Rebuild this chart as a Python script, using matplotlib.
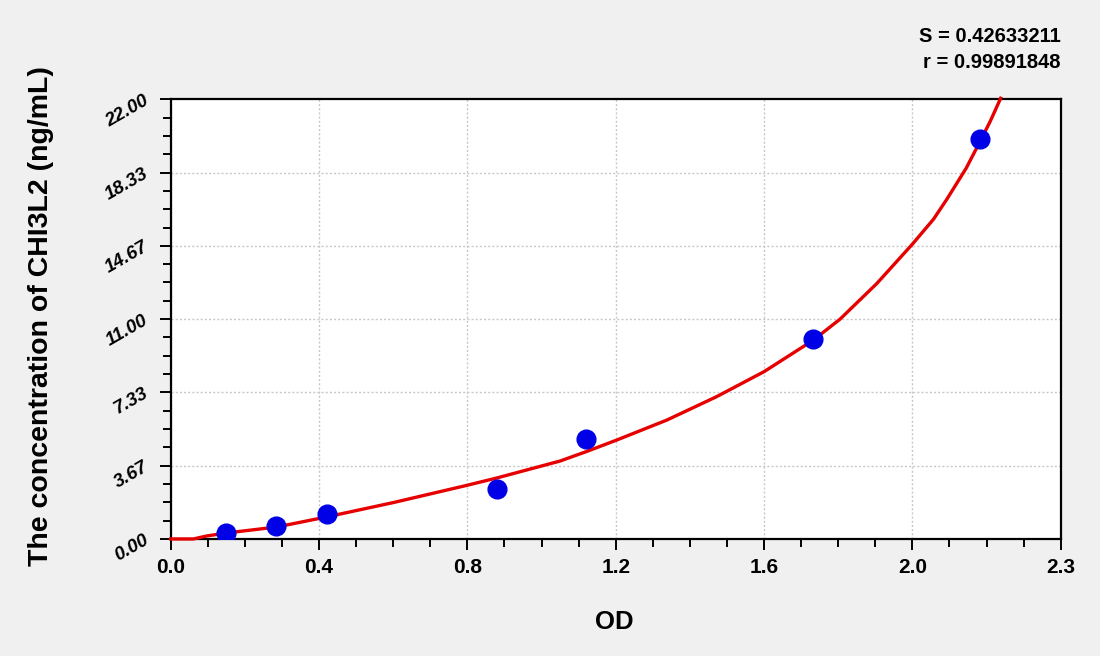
import numpy as np
import matplotlib
matplotlib.use("Agg")
import matplotlib.pyplot as plt
from matplotlib.ticker import MultipleLocator

plt.rcParams['font.family'] = ['Liberation Sans', 'DejaVu Sans']

# standard points
od = [0.149, 0.284, 0.421, 0.879, 1.119, 1.733, 2.181]
conc = [0.312, 0.625, 1.25, 2.5, 5.0, 10.0, 20.0]

# fitted curve
curve_od = [0.0, 0.061, 0.097, 0.151, 0.286, 0.42, 0.6, 0.798, 0.879, 1.05, 1.122,
            1.2, 1.338, 1.472, 1.6, 1.733, 1.805, 1.904, 2.0, 2.057, 2.093, 2.145,
            2.18, 2.21, 2.238]
curve_conc = [0.0, 0.0, 0.15, 0.3, 0.6, 1.1, 1.82, 2.68, 3.05, 3.9, 4.38,
              4.93, 5.95, 7.12, 8.37, 9.95, 11.0, 12.78, 14.75, 16.0, 17.0, 18.55,
              19.8, 20.9, 22.05]

x_ticks = [0.0, 0.4, 0.8, 1.2, 1.6, 2.0, 2.4]
x_labels = ["0.0", "0.4", "0.8", "1.2", "1.6", "2.0", "2.3"]
y_ticks = [0.0, 22 / 6, 44 / 6, 11.0, 88 / 6, 110 / 6, 22.0]
y_labels = ["0.00", "3.67", "7.33", "11.00", "14.67", "18.33", "22.00"]

fig = plt.figure(figsize=(11, 6.56), dpi=100, facecolor='#f0f0f0')
ax = fig.add_axes([0.1552, 0.1784, 0.8091, 0.6703])
ax.set_facecolor('white')

ax.plot(curve_od, curve_conc, color='#e60000', lw=2.4, zorder=3, clip_on=False,
        solid_joinstyle='round')
ax.plot(od, conc, 'o', color='#0000e6', ms=13.5, mec='#0000e6', zorder=4)

ax.set_xlim(0, 2.4)
ax.set_ylim(0, 22)
ax.set_xticks(x_ticks)
ax.set_xticklabels(x_labels, fontsize=15, fontweight='bold')
ax.set_yticks(y_ticks)
ax.set_yticklabels(y_labels, fontsize=13.5, fontweight='bold', style='italic',
                   rotation=30, ha='right', va='center', rotation_mode='anchor')
ax.xaxis.set_minor_locator(MultipleLocator(0.1))
ax.yaxis.set_minor_locator(MultipleLocator(22 / 24))

ax.tick_params(which='major', length=8, width=1.4, direction='out')
ax.tick_params(which='minor', length=5.5, width=1.4, direction='out')
ax.tick_params(axis='x', which='major', pad=6)
ax.tick_params(axis='y', which='major', pad=9)

ax.grid(True, which='major', color='#c8c8c8', linestyle=(0, (1.5, 1.5)), lw=1.0)
for s in ax.spines.values():
    s.set_linewidth(1.6)
    s.set_color('black')

# no grid line on the right and top edges
ax.xaxis.get_gridlines()[-1].set_visible(False)
ax.yaxis.get_gridlines()[-1].set_visible(False)

fig.text(41 / 1100, 1 - 316 / 656, "The concentration of CHI3L2 (ng/mL)",
         rotation=90, ha='center', va='center', fontsize=20.5, fontweight='bold')
fig.text(614 / 1100, 1 - 622 / 656, "OD", ha='center', va='center',
         fontsize=18.5, fontweight='bold')
fig.text(0.964, 1 - 36 / 656, "S = 0.42633211", ha='right', va='center',
         fontsize=14.5, fontweight='bold')
fig.text(0.964, 1 - 62 / 656, "r = 0.99891848", ha='right', va='center',
         fontsize=14.5, fontweight='bold')

fig.savefig("out.png", dpi=100, facecolor=fig.get_facecolor())
